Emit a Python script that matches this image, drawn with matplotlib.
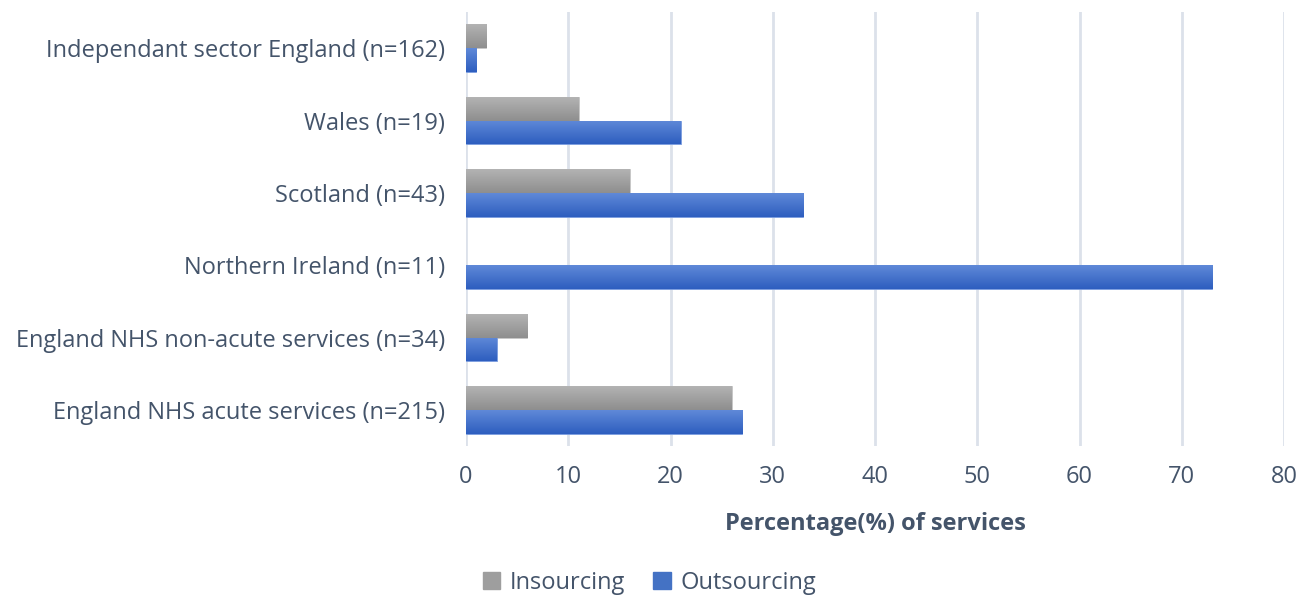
import matplotlib
matplotlib.use("Agg")
import matplotlib.pyplot as plt
import numpy as np

plt.rcParams["font.family"] = ["Open Sans", "DejaVu Sans"]

categories = [
    "England NHS acute services (n=215)",
    "England NHS non-acute services (n=34)",
    "Northern Ireland (n=11)",
    "Scotland (n=43)",
    "Wales (n=19)",
    "Independant sector England (n=162)",
]
insourcing = [26, 6, 0, 16, 11, 2]
outsourcing = [27, 3, 73, 33, 21, 1]
x_ticks = [0, 10, 20, 30, 40, 50, 60, 70, 80]

text_color = "#44546A"
gray_top, gray_bot = "#B3B3B3", "#8E8E8E"
blue_top, blue_bot = "#5F89D8", "#2E5EBF"
fs = 17


def gradient_fill(ax, bars, top, bottom):
    cmap = matplotlib.colors.LinearSegmentedColormap.from_list("g", [bottom, top])
    grad = np.linspace(0, 1, 64).reshape(-1, 1)
    for b in bars:
        if b.get_width() <= 0:
            b.set_linewidth(0)
            continue
        x0, y0 = b.get_x(), b.get_y()
        im = ax.imshow(grad, cmap=cmap, aspect="auto", origin="lower",
                       extent=[x0, x0 + b.get_width(), y0, y0 + b.get_height()],
                       zorder=3)
        im.set_clip_path(b)


fig = plt.figure(figsize=(13.12, 6.09), dpi=100)
ax = fig.add_axes([0.3552, 0.2677, 0.9787 - 0.3552, 0.980 - 0.2677])

y = np.arange(len(categories))
h = 0.33
b_in = ax.barh(y + h / 2, insourcing, height=h, color=gray_bot, label="Insourcing",
               edgecolor="#C8C8C8", linewidth=0.6, zorder=2)
b_out = ax.barh(y - h / 2, outsourcing, height=h, color=blue_bot, label="Outsourcing",
                edgecolor="#7C9EE0", linewidth=0.6, zorder=2)
gradient_fill(ax, b_in, gray_top, gray_bot)
gradient_fill(ax, b_out, blue_top, blue_bot)

ax.set_xlim(0, 80)
ax.set_ylim(-0.5, len(categories) - 0.5)
ax.set_xticks(x_ticks)
ax.set_yticks(y)
ax.set_yticklabels(categories)
ax.tick_params(axis="both", length=0, labelsize=fs, labelcolor=text_color)
ax.tick_params(axis="y", pad=15)
ax.tick_params(axis="x", pad=14)
for s in ax.spines.values():
    s.set_visible(False)
ax.xaxis.grid(True, color="#DCE1EA", linewidth=2, zorder=0)
ax.set_axisbelow(True)
ax.set_xlabel("Percentage(%) of services", fontsize=fs, fontweight="bold",
              color=text_color, labelpad=16)

handles = [matplotlib.patches.Patch(color="#9E9E9E"), matplotlib.patches.Patch(color="#4472C4")]
fig.legend(handles, ["Insourcing", "Outsourcing"], loc="lower center",
           bbox_to_anchor=(0.495, -0.012), ncol=2, frameon=False, fontsize=fs,
           labelcolor=text_color, handlelength=0.75, handleheight=0.75,
           handletextpad=0.4, columnspacing=1.2)

fig.savefig("out.png", dpi=100)
